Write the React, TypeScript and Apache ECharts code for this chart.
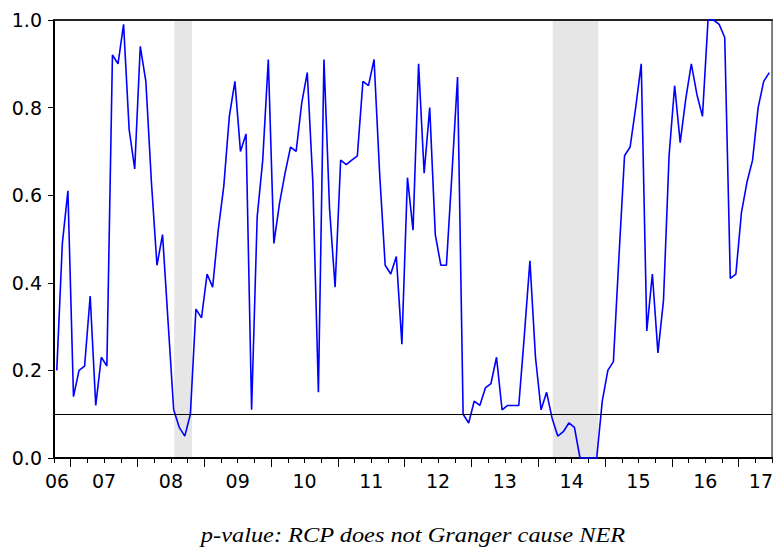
import React, { useEffect, useRef } from "react";
import * as echarts from "echarts";

// Monthly p-values, Oct 2006 .. Jun 2017
const pValues: number[] = [
  0.20, 0.49, 0.61, 0.14, 0.20, 0.21, 0.37, 0.12, 0.23, 0.21,
  0.92, 0.90, 0.99, 0.75, 0.66, 0.94, 0.86, 0.63, 0.44, 0.51,
  0.31, 0.11, 0.07, 0.05, 0.10, 0.34, 0.32, 0.42, 0.39, 0.52,
  0.62, 0.78, 0.86, 0.70, 0.74, 0.11, 0.55, 0.68, 0.91, 0.49,
  0.58, 0.65, 0.71, 0.70, 0.81, 0.88, 0.63, 0.15, 0.91, 0.57,
  0.39, 0.68, 0.67, 0.68, 0.69, 0.86, 0.85, 0.91, 0.65, 0.44,
  0.42, 0.46, 0.26, 0.64, 0.52, 0.90, 0.65, 0.80, 0.51, 0.44,
  0.44, 0.65, 0.87, 0.10, 0.08, 0.13, 0.12, 0.16, 0.17, 0.23,
  0.11, 0.12, 0.12, 0.12, 0.28, 0.45, 0.23, 0.11, 0.15, 0.09,
  0.05, 0.06, 0.08, 0.07, 0.00, 0.00, 0.00, 0.00, 0.13, 0.20,
  0.22, 0.46, 0.69, 0.71, 0.80, 0.90, 0.29, 0.42, 0.24, 0.36,
  0.69, 0.85, 0.72, 0.82, 0.90, 0.83, 0.78, 1.00, 1.00, 0.99,
  0.96, 0.41, 0.42, 0.56, 0.63, 0.68, 0.80, 0.86, 0.88,
];

const startYear = 2006;
const startMonth = 10; // October
const years: number[] = [2006, 2007, 2008, 2009, 2010, 2011, 2012, 2013, 2014, 2015, 2016, 2017];
const yearLabels: string[] = ["06", "07", "08", "09", "10", "11", "12", "13", "14", "15", "16", "17"];
const shadedPeriods: [string, string][] = [
  ["2008-07", "2008-10"],
  ["2014-03", "2014-11"],
];
const thresholdValue = 0.1;
const yTicks: number[] = [0, 0.2, 0.4, 0.6, 0.8, 1.0];
const titleText = "p-value: RCP does not Granger cause NER";

const monthIndex = (y: number, m: number) => (y - startYear) * 12 + (m - startMonth);
const parseMonth = (s: string) => {
  const [y, m] = s.split("-").map(Number);
  return monthIndex(y, m);
};

export default function App() {
  const ref = useRef<HTMLDivElement>(null);

  useEffect(() => {
    if (!ref.current) return;
    const chart = echarts.init(ref.current, undefined, { renderer: "svg" });
    const n = pValues.length;

    const quarterTicks: number[] = [];
    for (let i = 0; i <= n; i++) {
      const m = ((startMonth - 1 + i) % 12) + 1;
      if (m % 3 === 1) quarterTicks.push(i);
    }
    const yearTicks: number[] = [];
    for (let i = 0; i <= n; i++) {
      const m = ((startMonth - 1 + i) % 12) + 1;
      if (m === 1) yearTicks.push(i);
    }
    const labelPos = new Map<number, string>();
    const labelValues: number[] = [];
    years.forEach((y, k) => {
      let p = monthIndex(y, 7);
      p = Math.min(Math.max(p, 0.55), n - 2);
      labelPos.set(p, yearLabels[k]);
      labelValues.push(p);
    });

    const lineData = pValues.map((v, i) => [i + 0.5, v]);
    const areas = shadedPeriods.map(([a, b]) => [
      { xAxis: parseMonth(a) + 0.6 },
      { xAxis: parseMonth(b) + 0.8 },
    ]);

    const labelFont = "DejaVu Sans";

    chart.setOption({
      animation: false,
      grid: {
        left: 54,
        right: 2,
        top: 20,
        bottom: 92,
        show: true,
        borderColor: "#000",
        borderWidth: 1,
        backgroundColor: "transparent",
      },
      xAxis: [
        {
          type: "value",
          min: 0,
          max: n,
          position: "bottom",
          axisLine: { show: true, onZero: false, lineStyle: { color: "#000", width: 2 } },
          axisTick: {
            show: true,
            customValues: quarterTicks,
            length: 5,
            inside: false,
            lineStyle: { color: "#000", width: 1 },
          },
          axisLabel: {
            show: true,
            customValues: labelValues,
            formatter: (v: number) => labelPos.get(v) ?? "",
            fontFamily: labelFont,
            fontSize: 19,
            color: "#000",
            margin: 13,
          },
          splitLine: { show: false },
        },
        {
          type: "value",
          min: 0,
          max: n,
          position: "bottom",
          axisLine: { show: false, onZero: false },
          axisTick: {
            show: true,
            customValues: yearTicks,
            length: 9,
            lineStyle: { color: "#000", width: 1 },
          },
          axisLabel: { show: false },
          splitLine: { show: false },
        },
        {
          type: "value",
          min: 0,
          max: n,
          position: "top",
          axisLine: { show: true, onZero: false, lineStyle: { color: "#222", width: 2 } },
          axisTick: { show: false },
          axisLabel: { show: false },
          splitLine: { show: false },
        },
      ],
      yAxis: {
        type: "value",
        min: 0,
        max: 1,
        interval: 0.2,
        axisLine: { show: true, lineStyle: { color: "#000", width: 2 } },
        axisTick: { show: true, length: 6, lineStyle: { color: "#000", width: 1 } },
        axisLabel: {
          formatter: (v: number) => {
            const t = yTicks.find((x) => Math.abs(x - v) < 1e-9);
            return t === undefined ? "" : t.toFixed(1);
          },
          fontFamily: labelFont,
          fontSize: 19,
          color: "#000",
          margin: 12,
        },
        splitLine: { show: false },
      },
      series: [
        {
          type: "line",
          xAxisIndex: 0,
          data: lineData,
          symbol: "none",
          lineStyle: { color: "#0000ff", width: 1.6 },
          clip: false,
          markArea: {
            silent: true,
            itemStyle: { color: "#e6e6e6" },
            data: areas,
            z: -1,
          },
          markLine: {
            silent: true,
            symbol: "none",
            label: { show: false },
            lineStyle: { color: "#000", width: 1, type: "solid" },
            data: [{ yAxis: thresholdValue }],
          },
          z: 3,
        },
      ],
      graphic: [
        {
          type: "text",
          x: 413,
          y: 535,
          scaleX: 1.16,
          style: {
            text: titleText,
            fontFamily: "Liberation Serif",
            fontStyle: "italic",
            fontSize: 21,
            fill: "#000",
            align: "center",
            verticalAlign: "middle",
          },
        },
      ],
    });

    return () => chart.dispose();
  }, []);

  return (
    <div
      ref={ref}
      style={{ position: "fixed", left: 0, top: 0, width: 776, height: 550, background: "#fff" }}
    />
  );
}
